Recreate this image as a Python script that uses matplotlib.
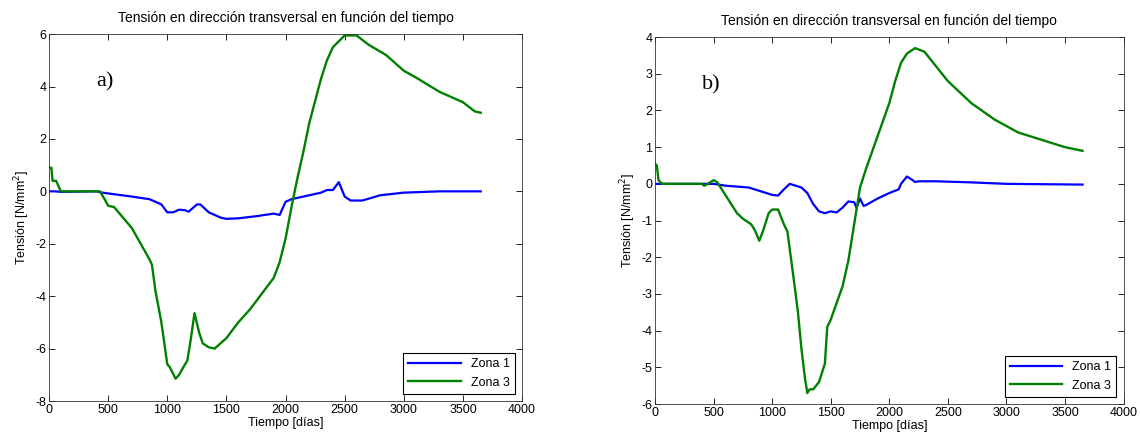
import matplotlib
matplotlib.use('Agg')
import matplotlib.pyplot as plt

plt.rcParams['font.family'] = 'Liberation Sans'
plt.rcParams['font.size'] = 9
plt.rcParams['axes.unicode_minus'] = False
plt.rcParams['xtick.direction'] = 'in'
plt.rcParams['ytick.direction'] = 'in'

# panel a)
a_z1_t = [0, 50, 100, 400, 450, 700, 850, 950, 1000, 1050, 1100, 1150, 1180, 1250, 1280,
          1350, 1450, 1500, 1600, 1750, 1900, 1950, 2000, 2050, 2200, 2300, 2350, 2400,
          2450, 2500, 2550, 2650, 2800, 3000, 3300, 3650]
a_z1_v = [0, 0, -0.02, 0, -0.05, -0.2, -0.3, -0.5, -0.8, -0.8, -0.7, -0.72, -0.78, -0.5, -0.5,
          -0.8, -1.0, -1.05, -1.03, -0.95, -0.85, -0.9, -0.4, -0.3, -0.15, -0.05, 0.05, 0.05,
          0.35, -0.2, -0.35, -0.35, -0.15, -0.05, 0.0, 0.0]
a_z3_t = [0, 20, 30, 60, 100, 430, 470, 500, 550, 700, 750, 850, 870, 900, 950, 1000, 1020,
          1070, 1100, 1150, 1170, 1200, 1230, 1270, 1300, 1350, 1400, 1500, 1600, 1700, 1800,
          1900, 1950, 2000, 2050, 2100, 2150, 2200, 2300, 2350, 2400, 2500, 2600, 2700, 2850,
          3000, 3100, 3300, 3500, 3600, 3650]
a_z3_v = [0.9, 0.9, 0.4, 0.4, 0, 0, -0.3, -0.55, -0.6, -1.4, -1.8, -2.6, -2.8, -3.8, -5.0, -6.6, -6.7,
          -7.15, -7.0, -6.6, -6.45, -5.6, -4.65, -5.4, -5.8, -5.95, -6.0, -5.6, -5.0, -4.5, -3.9,
          -3.3, -2.7, -1.8, -0.6, 0.5, 1.5, 2.6, 4.3, 5.0, 5.5, 5.95, 5.95, 5.6, 5.2,
          4.6, 4.35, 3.8, 3.4, 3.05, 3.0]

# panel b)
b_z1_t = [0, 100, 400, 500, 600, 800, 900, 1000, 1050, 1100, 1150, 1200, 1250, 1300, 1350,
          1400, 1450, 1500, 1550, 1600, 1650, 1700, 1720, 1750, 1780, 1800, 1900, 2000, 2080,
          2100, 2150, 2200, 2220, 2250, 2400, 2700, 3000, 3650]
b_z1_v = [0, 0, 0, 0.0, -0.05, -0.1, -0.2, -0.3, -0.32, -0.15, 0.0, -0.05, -0.1, -0.25, -0.55,
          -0.75, -0.8, -0.75, -0.78, -0.65, -0.48, -0.5, -0.65, -0.4, -0.6, -0.58, -0.4, -0.25, -0.15,
          0, 0.2, 0.1, 0.05, 0.07, 0.07, 0.04, 0, -0.02]
b_z3_t = [0, 15, 30, 60, 400, 420, 450, 500, 530, 600, 700, 750, 820, 850, 890, 920, 970, 1000,
          1050, 1100, 1130, 1180, 1220, 1250, 1280, 1300, 1320, 1350, 1400, 1450, 1470, 1500,
          1600, 1650, 1700, 1750, 1800, 1900, 2000, 2050, 2100, 2150, 2220, 2300, 2400, 2500,
          2700, 2900, 3100, 3300, 3500, 3650]
b_z3_v = [0.55, 0.5, 0.1, 0, 0, -0.05, 0.0, 0.1, 0.05, -0.3, -0.8, -0.95, -1.1, -1.25, -1.55, -1.3, -0.8, -0.7,
          -0.7, -1.1, -1.3, -2.5, -3.5, -4.5, -5.3, -5.7, -5.6, -5.6, -5.4, -4.9, -3.9, -3.7,
          -2.8, -2.1, -1.1, -0.1, 0.4, 1.3, 2.2, 2.8, 3.3, 3.55, 3.7, 3.6, 3.2, 2.8,
          2.2, 1.75, 1.4, 1.2, 1.0, 0.9]

title = 'Tensión en dirección transversal en función del tiempo'
blue = (0, 0, 1)
green = (0, 0.5, 0)


def doPanel(ax, z1t, z1v, z3t, z3v, ylim, ystep, tag):
    ax.plot(z1t, z1v, color=blue, lw=1.6, label='Zona 1')
    ax.plot(z3t, z3v, color=green, lw=1.7, label='Zona 3')
    ax.set_xlim(0, 4000)
    ax.set_ylim(ylim)
    ax.set_xticks(range(0, 4001, 500))
    ax.set_yticks(range(ylim[0], ylim[1] + 1, ystep))
    ax.tick_params(top=True, right=True, length=4, width=0.6, pad=2)
    for s in ax.spines.values():
        s.set_linewidth(0.6)
        s.set_color('#333333')
    ax.set_title(title, fontsize=10, pad=9)
    ax.set_xlabel('Tiempo [días]', labelpad=1)
    ax.set_ylabel('Tensión [N/mm$^2$]', labelpad=2)
    ax.text(0.1, 0.87, tag, transform=ax.transAxes, fontsize=16,
            family='Liberation Serif', va='center')
    leg = ax.legend(loc='lower right', fancybox=False, framealpha=1,
                    edgecolor='black', borderaxespad=0.6, handlelength=4.2,
                    fontsize=9)
    leg.get_frame().set_linewidth(0.8)


fig = plt.figure(figsize=(11.4, 4.41), dpi=100)
ax1 = fig.add_axes([0.043, 0.0907, 0.415, 0.832])
ax2 = fig.add_axes([0.5746, 0.0839, 0.411, 0.832])

doPanel(ax1, a_z1_t, a_z1_v, a_z3_t, a_z3_v, (-8, 6), 2, 'a)')
doPanel(ax2, b_z1_t, b_z1_v, b_z3_t, b_z3_v, (-6, 4), 1, 'b)')

plt.savefig('out.png', dpi=100)
